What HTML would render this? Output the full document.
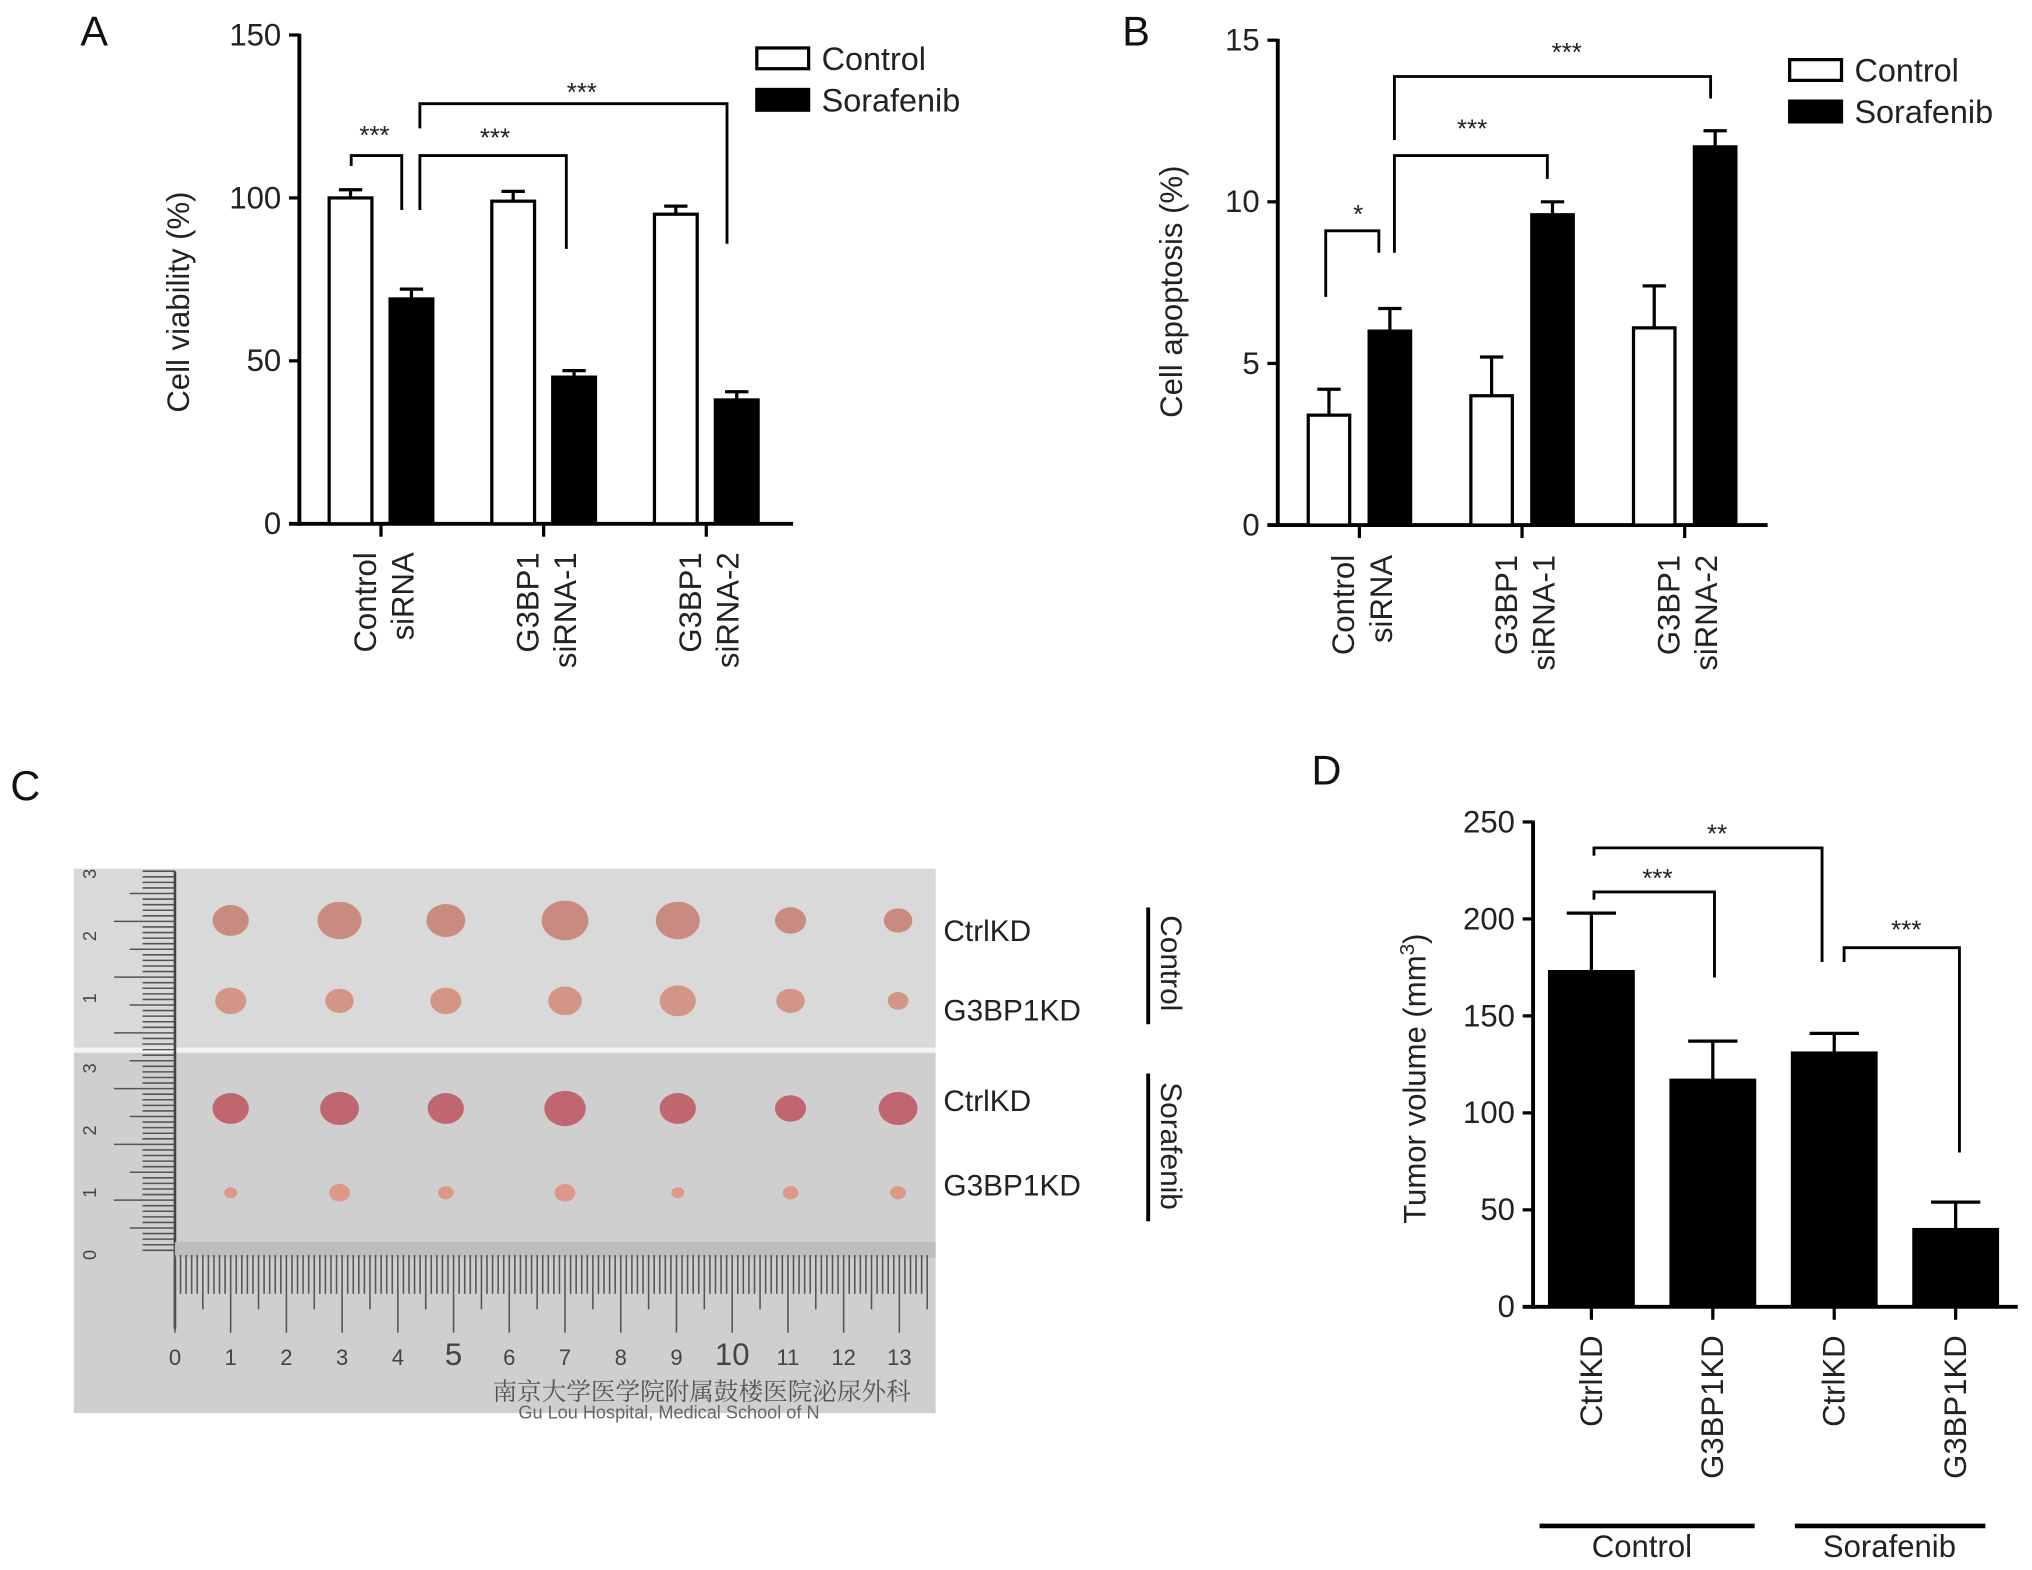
<!DOCTYPE html>
<html><head><meta charset="utf-8"><style>
html,body{margin:0;padding:0;background:#fff;}
svg{display:block;font-family:"Liberation Sans","Noto Sans CJK SC",sans-serif;}
</style></head><body>
<svg id="fig" width="2032" height="1570" viewBox="0 0 1568 1211" preserveAspectRatio="none" xmlns="http://www.w3.org/2000/svg">
<g id="pa"></g>
<g id="pb"></g>
<g id="pc"></g>
<g id="pd"></g>
</svg>
<script>
// Panel A data
const aCategories = [["Control","siRNA"],["G3BP1","siRNA-1"],["G3BP1","siRNA-2"]];
const aControl = [100, 99, 95];
const aControlErr = [2.5, 3, 2.5];
const aSorafenib = [69, 45, 38];
const aSorafenibErr = [3, 2, 2.5];
const aTicks = [0, 50, 100, 150];
// Panel B data
const bCategories = [["Control","siRNA"],["G3BP1","siRNA-1"],["G3BP1","siRNA-2"]];
const bControl = [3.4, 4.0, 6.1];
const bControlErr = [0.8, 1.2, 1.3];
const bSorafenib = [6.0, 9.6, 11.7];
const bSorafenibErr = [0.7, 0.4, 0.5];
const bTicks = [0, 5, 10, 15];
// Panel D data
const dCategories = ["CtrlKD","G3BP1KD","CtrlKD","G3BP1KD"];
const dValues = [173, 117, 131, 40];
const dErr = [30, 20, 10, 14];
const dTicks = [0, 50, 100, 150, 200, 250];

const NS = "http://www.w3.org/2000/svg";
function mk(parent, tag, attrs, text){
  const e = document.createElementNS(NS, tag);
  for (const k in attrs) e.setAttribute(k, attrs[k]);
  if (text !== undefined) e.textContent = text;
  parent.appendChild(e);
  return e;
}
function line(p,x1,y1,x2,y2,w){ return mk(p,'line',{x1,y1,x2,y2,stroke:'#000','stroke-width':w||2.5}); }
function path(p,d,w){ return mk(p,'path',{d,fill:'none',stroke:'#000','stroke-width':w||2.2}); }

function groupedChart(g, o){
  const y = v => o.y0 - (v - 0) / o.max * (o.y0 - o.yTop);
  const ya = line(g,o.ax,o.yTop-1,o.ax,o.y0+1.5,3);
  
  
  const xa = line(g,o.ax-8,o.y0,o.axEnd,o.y0,3);
  
  
  o.ticks.forEach(t=>{
    line(g,o.ax-8,y(t),o.ax,y(t),2.5);
    const tx = mk(g,'text',{x:o.ax-14,y:y(t)+8,'text-anchor':'end','font-size':24,fill:'#222'},String(t));
    
    
  });
  o.cats.forEach((c,i)=>{
    const cx = o.g0 + i*o.gs;
    line(g,cx,o.y0,cx,o.y0+10,2.5);
    [[o.s1,o.e1,'#fff',-1],[o.s2,o.e2,'#000',1]].forEach(([s,e,fill,side],k)=>{
      const bx = cx + (side<0 ? -o.gap/2 - o.bw : o.gap/2);
      const top = y(s[i]);
      const et = y(s[i]+e[i]);
      line(g,bx+o.bw/2,top,bx+o.bw/2,et,2.5);
      line(g,bx+o.bw/2-9,et,bx+o.bw/2+9,et,2.5);
      const r = mk(g,'rect',{x:bx,y:top,width:o.bw,height:o.y0-top,fill,stroke:'#000','stroke-width':2.5});
      
      
    });
    const t = mk(g,'text',{transform:`translate(${cx},${o.labTop}) rotate(-90)`,'text-anchor':'end','font-size':24,fill:'#222'});
    mk(t,'tspan',{x:0,dy:-4},c[0]);
    mk(t,'tspan',{x:0,dy:29},c[1]);
    
    
  });
  const yl = mk(g,'text',{transform:`translate(${o.ylx},${o.yly}) rotate(-90)`,'text-anchor':'middle','font-size':24,fill:'#222'},o.ylab);
  
  
  [['Control','#fff',o.legY],['Sorafenib','#000',o.legY+32]].forEach(([n,f,ly])=>{
    const lg = mk(g,'g',{});
    
    
    mk(lg,'rect',{x:o.legX,y:ly,width:40,height:16,fill:f,stroke:'#000','stroke-width':2.5});
    mk(lg,'text',{x:o.legX+50,y:ly+17,'font-size':25,fill:'#222'},n);
  });
  const L = mk(g,'text',{x:o.letX,y:o.letY,'font-size':32,fill:'#111'},o.letter);
  
  
  return y;
}
function star(g,x,y,s){
  const t = mk(g,'text',{x,y,'text-anchor':'middle','font-size':20,fill:'#222'},s);
  
  
}

// Panel A
const pa = document.getElementById('pa');
groupedChart(pa,{ax:231,axEnd:612,yTop:27,y0:404,max:150,ticks:aTicks,cats:aCategories,
  g0:294,gs:125.5,bw:33,gap:14,s1:aControl,e1:aControlErr,s2:aSorafenib,e2:aSorafenibErr,
  labTop:426,ylx:146,yly:233,ylab:'Cell viability (%)',legX:584,legY:37,letX:62,letY:35,letter:'A'});
path(pa,'M271 128 V120 H310 V162');
path(pa,'M324 162 V120 H437 V192');
path(pa,'M324 99 V80 H561 V188');
star(pa,289,111,'***'); star(pa,382,113,'***'); star(pa,449,78,'***');

// Panel B
const pb = document.getElementById('pb');
groupedChart(pb,{ax:986,axEnd:1364,yTop:31,y0:405,max:15,ticks:bTicks,cats:bCategories,
  g0:1049,gs:125.5,bw:32,gap:15,s1:bControl,e1:bControlErr,s2:bSorafenib,e2:bSorafenibErr,
  labTop:428,ylx:912,yly:225,ylab:'Cell apoptosis (%)',legX:1381,legY:46,letX:866,letY:35,letter:'B'});
path(pb,'M1023 229 V178 H1064 V195');
path(pb,'M1076 195 V120 H1194 V138');
path(pb,'M1076 108 V59 H1320 V76');
star(pb,1048,172,'*'); star(pb,1136,106,'***'); star(pb,1209,47,'***');

// Panel D
const pd = document.getElementById('pd');
(function(){
  const ax=1183, y0=1008, yTop=634, max=250;
  const y = v => y0 - v/max*(y0-yTop);
  const ya=line(pd,ax,yTop-1,ax,y0+1.5,3);
  
  
  const xa=line(pd,ax-8,y0,1557,y0,3);
  
  
  dTicks.forEach(t=>{
    line(pd,ax-8,y(t),ax,y(t),2.5);
    const tx=mk(pd,'text',{x:ax-14,y:y(t)+8,'text-anchor':'end','font-size':24,fill:'#222'},String(t));
    
    
  });
  const bw=65, g0=1228, gs=93.7;
  dCategories.forEach((c,i)=>{
    const cx=g0+i*gs;
    line(pd,cx,y0,cx,y0+10,2.5);
    const et=y(dValues[i]+dErr[i]);
    line(pd,cx,y(dValues[i]),cx,et,2.5);
    line(pd,cx-19,et,cx+19,et,2.5);
    const r=mk(pd,'rect',{x:cx-bw/2,y:y(dValues[i]),width:bw,height:y0-y(dValues[i]),fill:'#000',stroke:'#000','stroke-width':2});
    
    
    const t=mk(pd,'text',{transform:`translate(${cx+8},1030) rotate(-90)`,'text-anchor':'end','font-size':24,fill:'#222'},c);
    
    
  });
  const yl=mk(pd,'text',{transform:'translate(1100,832) rotate(-90)','text-anchor':'middle','font-size':24,fill:'#222'});
  yl.innerHTML='Tumor volume (mm<tspan dy="-9" font-size="16">3</tspan><tspan dy="9">)</tspan>';
  
  
  path(pd,'M1230 694 V688 H1323 V754');
  path(pd,'M1230 660 V654 H1406 V742');
  path(pd,'M1423 742 V731 H1512 V889');
  star(pd,1279,684,'***'); star(pd,1325,650,'**'); star(pd,1471,724,'***');
  const g1=line(pd,1188,1177,1354,1177,3.5);
  
  
  const g2=line(pd,1385,1177,1532,1177,3.5);
  
  
  const t1=mk(pd,'text',{x:1267,y:1201,'text-anchor':'middle','font-size':24,fill:'#222'},'Control');
  
  
  const t2=mk(pd,'text',{x:1458,y:1201,'text-anchor':'middle','font-size':24,fill:'#222'},'Sorafenib');
  
  
  const L=mk(pd,'text',{x:1012,y:605,'font-size':32,fill:'#111'},'D');
  
  
})();

// Panel C (photo illustration)
const pc = document.getElementById('pc');
(function(){
  const L=mk(pc,'text',{x:8,y:617,'font-size':32,fill:'#111'},'C');
  
  
  const ph=mk(pc,'g',{});
  
  
  mk(ph,'rect',{x:57,y:670,width:665,height:138,fill:'#d9d9d9'});
  mk(ph,'rect',{x:57,y:808,width:665,height:4,fill:'#f4f4f4'});
  mk(ph,'rect',{x:57,y:812,width:665,height:278,fill:'#cfcfcf'});
  for(let yy=672; yy<=968; yy+=4.3){
    const major=Math.round((968-yy)/4.3)%10===0, half=Math.round((968-yy)/4.3)%5===0;
    line(ph, major?88:(half?100:110), yy, 135, yy, 1.2).setAttribute('stroke','#555');
  }
  line(ph,135,672,135,1025,2).setAttribute('stroke','#444');
  ['0','1','2','3'].forEach((n,i)=>{
    mk(ph,'text',{transform:`translate(74,${968-i*48}) rotate(-90)`,'text-anchor':'middle','font-size':14,fill:'#444'},n);
  });
  ['1','2','3'].forEach((n,i)=>{
    mk(ph,'text',{transform:`translate(74,${770-i*48}) rotate(-90)`,'text-anchor':'middle','font-size':14,fill:'#444'},n);
  });
  mk(ph,'rect',{x:135,y:958,width:587,height:12,fill:'#bdbdbd'});
  for(let k=0;k<=135;k++){
    const xx=135+k*4.3; if(xx>722) break;
    const len = k%10===0?60:(k%5===0?42:30);
    line(ph,xx,968,xx,968+len,1.2).setAttribute('stroke','#555');
  }
  for(let n=0;n<=13;n++){
    mk(ph,'text',{x:135+n*43,y:1053,'text-anchor':'middle','font-size':(n===5||n===10)?24:17,fill:'#444'},String(n));
  }
  mk(ph,'text',{x:380,y:1080,'font-size':19,fill:'#555','font-family':'"Noto Serif CJK SC",serif'},'南京大学医学院附属鼓楼医院泌尿外科');
  mk(ph,'text',{x:400,y:1094,'font-size':14,fill:'#666'},'Gu Lou Hospital, Medical School of N');
  const xs=[178,262,344,436,523,610,693];
  const rows=[[710,[14,17,15,18,17,12,11],'#c98a80'],[772,[12,11,12,13,14,11,8],'#d39585'],[855,[14,15,14,16,14,12,15],'#c06670'],[920,[5,8,6,8,5,6,6],'#dc9888']];
  rows.forEach(([yy,rs,col])=>{
    xs.forEach((xx,i)=>{
      const e=mk(ph,'ellipse',{cx:xx,cy:yy,rx:rs[i],ry:rs[i]*0.85,fill:col});
      
      
    });
  });
  [['CtrlKD',726],['G3BP1KD',787],['CtrlKD',857],['G3BP1KD',922]].forEach(([t,yy])=>{
    const e=mk(pc,'text',{x:728,y:yy,'font-size':23,fill:'#222'},t);
    
    
  });
  line(pc,886,700,886,790,3); line(pc,886,828,886,942,3);
  const c1=mk(pc,'text',{transform:'translate(896,743) rotate(90)','text-anchor':'middle','font-size':23,fill:'#222'},'Control');
  
  
  const c2=mk(pc,'text',{transform:'translate(896,884) rotate(90)','text-anchor':'middle','font-size':23,fill:'#222'},'Sorafenib');
  
  
})();
</script>
</body></html>
